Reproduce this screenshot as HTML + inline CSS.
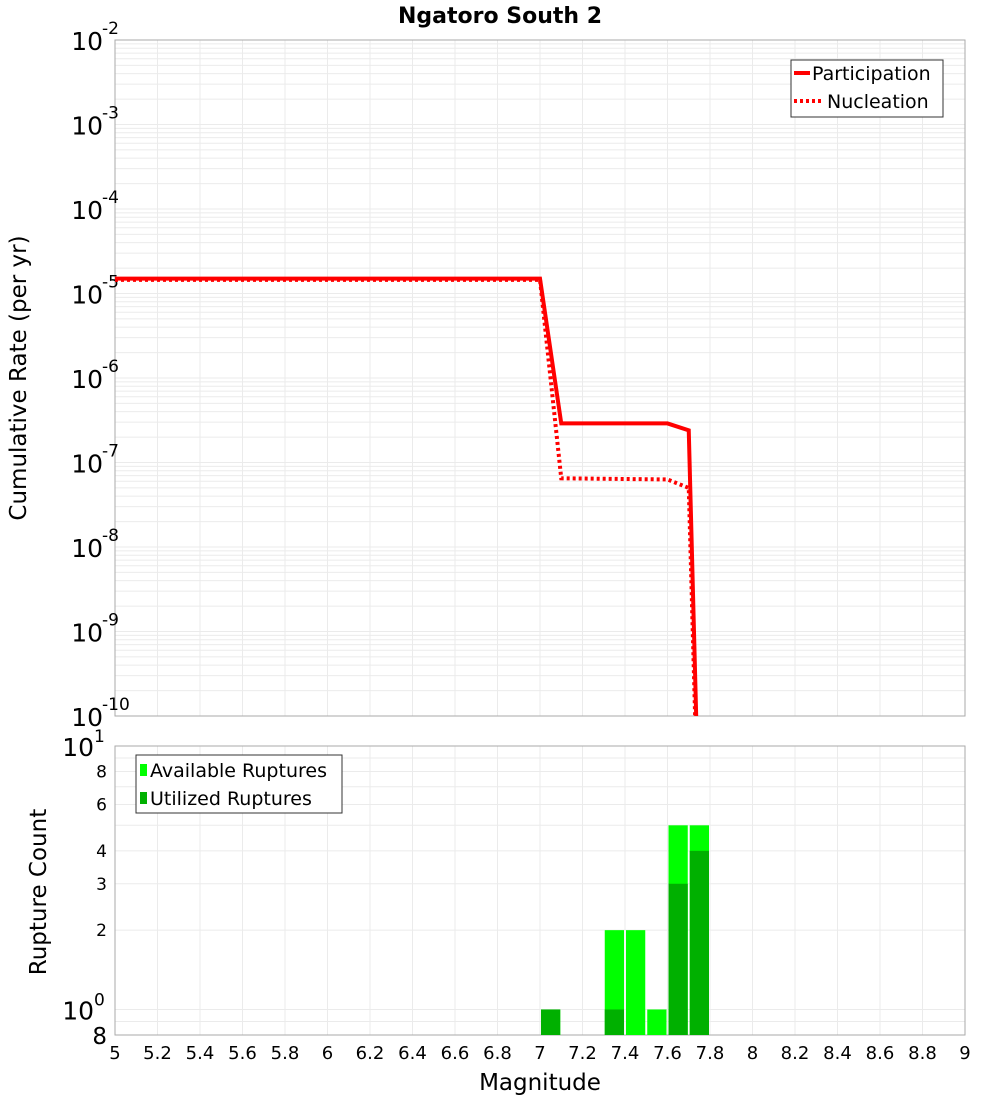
<!DOCTYPE html>
<html><head><meta charset="utf-8"><style>
body{margin:0;background:#fff;}
svg text{font-family:"DejaVu Sans","Liberation Sans",sans-serif;}
</style></head><body>
<svg id="c" width="1000" height="1100" xmlns="http://www.w3.org/2000/svg"></svg>
<script>
const partM=[5.0,7.0,7.1,7.6,7.7,7.735];
const partRate=[1.5e-5,1.5e-5,2.9e-7,2.9e-7,2.4e-7,1e-10];
const nuclM=[5.0,7.0,7.1,7.6,7.7,7.73];
const nuclRate=[1.45e-5,1.45e-5,6.5e-8,6.3e-8,5e-8,1e-10];
const binCenters=[7.05,7.35,7.45,7.55,7.65,7.75];
const availCounts=[1,2,2,1,5,5];
const usedCounts=[1,1,0,0,3,4];
const xTicks=[5,5.2,5.4,5.6,5.8,6,6.2,6.4,6.6,6.8,7,7.2,7.4,7.6,7.8,8,8.2,8.4,8.6,8.8,9];
const topExps=[-10,-9,-8,-7,-6,-5,-4,-3,-2];
const botTicks=[0.8,1,2,3,4,6,8,10];

const S=document.getElementById('c'),NS='http://www.w3.org/2000/svg';
function el(t,a,p){const e=document.createElementNS(NS,t);for(const k in a)e.setAttribute(k,a[k]);(p||S).appendChild(e);return e;}
const L=115,R=965,T1=40,B1=716,T2=746,B2=1035;
const xs=m=>L+(m-5)/(9-5)*(R-L);
const y1=v=>B1-(Math.log10(v)+10)/8*(B1-T1);
const y2=v=>B2-(Math.log10(v)-Math.log10(0.8))/(1-Math.log10(0.8))*(B2-T2);

let t=el('text',{x:500,y:23,'text-anchor':'middle','font-size':22,'font-weight':'bold'});t.textContent='Ngatoro South 2';


const g=el('g',{stroke:'#ebebeb','stroke-width':1});

for(const m of xTicks){el('line',{x1:xs(m),x2:xs(m),y1:T1,y2:B1},g);el('line',{x1:xs(m),x2:xs(m),y1:T2,y2:B2},g);}
for(let e=-10;e<-2;e++)for(let k=1;k<10;k++){const y=y1(k*Math.pow(10,e));el('line',{x1:L,x2:R,y1:y,y2:y},g);}
for(let k=1;k<=10;k++){const y=y2(k);el('line',{x1:L,x2:R,y1:y,y2:y},g);}
el('line',{x1:L,x2:R,y1:y2(0.9),y2:y2(0.9)},g);

el('rect',{x:L,y:T1,width:R-L,height:B1-T1,fill:'none',stroke:'#aaa'});
el('rect',{x:L,y:T2,width:R-L,height:B2-T2,fill:'none',stroke:'#aaa'});

for(const e of topExps){const y=y1(Math.pow(10,e));
 const tx=el('text',{x:103,y:y+10,'text-anchor':'end','font-size':25});tx.textContent='10';
 
 const sp=el('text',{x:102,y:y-6,'font-size':17});sp.textContent=String(e);
 }
t=el('text',{x:0,y:0,'font-size':23,'text-anchor':'middle',transform:'translate(26,378) rotate(-90)'});t.textContent='Cumulative Rate (per yr)';


function path(ms,vs){return ms.map((m,i)=>(i?'L':'M')+xs(m)+','+Math.min(y1(vs[i]),B1)).join(' ');}
const cp=el('clipPath',{id:'cp1'});el('rect',{x:L,y:T1,width:R-L,height:B1-T1},cp);
let p=el('path',{d:path(nuclM,nuclRate),fill:'none',stroke:'#f00','stroke-width':4,'stroke-dasharray':'3,3','clip-path':'url(#cp1)'});

p=el('path',{d:path(partM,partRate),fill:'none',stroke:'#f00','stroke-width':4,'clip-path':'url(#cp1)'});


const lg=el('g',{});
el('rect',{x:791,y:60,width:152,height:57,fill:'#fff',stroke:'#333'},lg);
el('line',{x1:794,x2:810,y1:73,y2:73,stroke:'#f00','stroke-width':4},lg);
el('line',{x1:794,x2:822,y1:101,y2:101,stroke:'#f00','stroke-width':4,'stroke-dasharray':'3,3'},lg);
t=el('text',{x:812,y:80,'font-size':19},lg);t.textContent='Participation';
t=el('text',{x:827,y:108,'font-size':19},lg);t.textContent='Nucleation';

const bw=0.1*(R-L)/4;
binCenters.forEach((c,i)=>{
 const x=xs(c)-bw/2+1;
 if(availCounts[i]>0){const r=el('rect',{x:x,y:y2(availCounts[i]),width:bw-2,height:B2-y2(availCounts[i]),fill:'#00ff00'});
  }
 if(usedCounts[i]>0){const r=el('rect',{x:x,y:y2(usedCounts[i]),width:bw-2,height:B2-y2(usedCounts[i]),fill:'#00b000'});
  }
});

for(const v of botTicks){const y=y2(v);
 if(v===1||v===10){const tx=el('text',{x:94,y:y+10,'text-anchor':'end','font-size':25});tx.textContent='10';
  
  const sp=el('text',{x:94,y:y-4,'font-size':17});sp.textContent=v===1?'0':'1';}
 else{const tx=el('text',{x:107,y:y+(v===0.8?9:6),'text-anchor':'end','font-size':v===0.8?23:17});tx.textContent=String(Math.round(v*10)%10===0?v:8);
  }}
t=el('text',{x:0,y:0,'font-size':23,'text-anchor':'middle',transform:'translate(46,892) rotate(-90)'});t.textContent='Rupture Count';


const lb=el('g',{});
el('rect',{x:136,y:755,width:206,height:58,fill:'#fff',stroke:'#333'},lb);
el('rect',{x:140,y:764,width:7,height:12,fill:'#00ff00'},lb);
el('rect',{x:140,y:792,width:7,height:12,fill:'#00b000'},lb);
t=el('text',{x:150,y:777,'font-size':19},lb);t.textContent='Available Ruptures';
t=el('text',{x:150,y:805,'font-size':19},lb);t.textContent='Utilized Ruptures';

for(const m of xTicks){const tx=el('text',{x:xs(m),y:1059,'text-anchor':'middle','font-size':18});tx.textContent=String(m);
 }
t=el('text',{x:540,y:1090,'text-anchor':'middle','font-size':23});t.textContent='Magnitude';

</script>
</body></html>
